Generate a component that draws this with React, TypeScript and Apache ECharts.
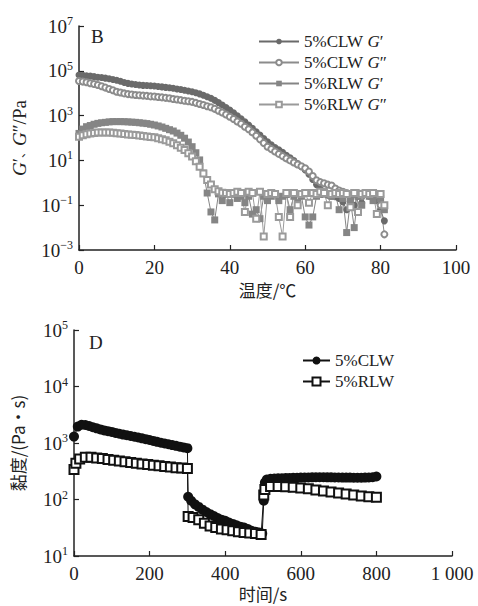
import React, { useEffect, useRef } from "react";
import * as echarts from "echarts";

// ---- Panel B: temperature sweep (G', G'') ----
const temps = Array.from({ length: 82 }, (_, i) => i); // 0..81 °C, one reading per degree

const clwGp = [
  65000, 63000, 60000, 58000, 55000, 52000, 50000, 47000, 44000, 41000,
  38000, 34000, 30000, 27500, 25700, 24500, 23400, 22400, 21900, 21400,
  20900, 20000, 19100, 18200, 17400, 16600, 15500, 14500, 13500, 12600,
  11700, 10500, 9300, 8100, 6900, 5900, 4800, 3800, 3000, 2300,
  1780, 1320, 980, 720, 525, 380, 270, 190, 135, 95,
  68, 50, 38, 30, 23, 17, 13, 9.8, 7.2, 5.2,
  3.7, 2.4, 1.4, 0.83, 0.52, 0.35, 0.28, 0.25, 0.24, 0.2,
  0.14, 0.063, 0.2, 0.1, 0.25, 0.126, 0.32, 0.25, 0.2, 0.16,
  0.063, 0.02,
];
const clwGpp = [
  35000, 33000, 31000, 28000, 25700, 23400, 20400, 17800, 15500, 13500,
  11700, 10700, 9800, 9100, 8700, 8300, 8100, 7800, 7600, 7200,
  7100, 6800, 6500, 6200, 5900, 5500, 5200, 4900, 4600, 4400,
  4100, 3700, 3300, 2950, 2630, 2340, 2000, 1660, 1380, 1120,
  890, 710, 550, 430, 320, 245, 178, 126, 87, 60,
  41, 32, 25, 19.5, 15.5, 12.3, 10, 8.1, 6.6, 5.5,
  4.5, 3.2, 2.0, 1.3, 1.07, 0.95, 0.83, 0.76, 0.56, 0.45,
  0.4, 0.35, 0.28, 0.32, 0.35, 0.25, 0.32, 0.35, 0.32, 0.28,
  0.1, 0.005,
];
const rlwGp = [
  160, 250, 320, 360, 410, 450, 480, 500, 525, 540,
  540, 540, 535, 525, 510, 500, 480, 460, 440, 410,
  380, 345, 310, 270, 235, 205, 166, 132, 98, 66,
  41, 22, 10.5, 2.7, 0.35, 0.05, 0.022, 0.32, 0.16, 0.3,
  0.13, 0.3, 0.2, 0.25, 0.13, 0.25, 0.04, 0.063, 0.025, 0.25,
  0.16, 0.25, 0.3, 0.16, 0.25, 0.3, 0.063, 0.25, 0.13, 0.25,
  0.03, 0.013, 0.03, 0.25, 0.3, 0.4, 0.3, 0.25, 0.3, 0.063,
  0.2, 0.006, 0.16, 0.01, 0.25, 0.1, 0.3, 0.25, 0.16, 0.3,
  0.2, 0.063,
];
const rlwGpp = [
  115, 132, 148, 158, 166, 174, 178, 178, 174, 170,
  162, 158, 151, 145, 138, 135, 129, 123, 117, 112,
  107, 98, 89, 79, 68, 58, 47, 37, 29, 21,
  15, 9.1, 5.2, 2.6, 1.35, 0.85, 0.51, 0.42, 0.36, 0.35,
  0.32, 0.35, 0.4, 0.35, 0.05, 0.4, 0.35, 0.025, 0.4, 0.004,
  0.32, 0.35, 0.32, 0.03, 0.004, 0.35, 0.03, 0.35, 0.1, 0.32,
  0.35, 0.13, 0.35, 0.32, 0.4, 0.35, 0.1, 0.32, 0.35, 0.32,
  0.35, 0.32, 0.08, 0.35, 0.05, 0.32, 0.35, 0.32, 0.35, 0.04,
  0.32, 0.1,
];
const bNames = ["5%CLW G′", "5%CLW G″", "5%RLW G′", "5%RLW G″"];
const bXTicks = [0, 20, 40, 60, 80, 100];
const bYTicks = [1e-3, 1e-1, 1e1, 1e3, 1e5, 1e7];

// ---- Panel D: viscosity vs time ----
const clwTime = [
  0, 10, 20, 30, 40, 50, 60, 70, 80, 90, 100, 110, 120, 130, 140, 150, 160, 170, 180, 190,
  200, 210, 220, 230, 240, 250, 260, 270, 280, 290, 300,
  302, 310, 320, 330, 340, 350, 360, 370, 380, 390, 400, 410, 420, 430, 440, 450, 460, 470, 480, 490, 498,
  502, 505, 510, 520, 530, 540, 550, 560, 570, 580, 590, 600, 610, 620, 630, 640, 650, 660, 670,
  680, 690, 700, 710, 720, 730, 740, 750, 760, 770, 780, 790, 800,
];
const clwVisc = [
  1300, 1950, 2100, 2080, 2000, 1900, 1820, 1740, 1670, 1620, 1570, 1510, 1460, 1410, 1370, 1330, 1290, 1250, 1210, 1170,
  1130, 1090, 1050, 1010, 980, 950, 920, 890, 860, 835, 810,
  112, 95, 82, 74, 66, 60, 55, 51, 47, 44, 42, 39, 37, 35, 33, 32, 30, 28, 27, 26, 25,
  95, 200, 225, 232, 235, 237, 238, 240, 241, 242, 243, 244, 245, 246, 247, 248, 248, 248, 247,
  247, 246, 245, 244, 244, 244, 243, 243, 243, 244, 245, 248, 255,
];
const rlwTime = [
  0, 5, 15, 30, 45, 60, 75, 90, 105, 120, 135, 150, 165, 180, 195, 210, 225, 240, 255, 270, 285, 300,
  302, 315, 330, 345, 360, 375, 390, 405, 420, 435, 450, 465, 480, 495,
  502, 505, 520, 540, 560, 580, 600, 620, 640, 660, 680, 700, 720, 740, 760, 780, 800,
];
const rlwVisc = [
  340, 440, 520, 560, 560, 545, 530, 510, 495, 480, 465, 450, 440, 425, 415, 405, 395, 385, 375, 365, 360, 355,
  50, 48, 44, 38, 34, 32, 30, 29, 28, 27, 26, 25.5, 25, 24,
  120, 150, 170, 170, 168, 165, 160, 155, 148, 142, 136, 130, 125, 120, 115, 112, 110,
];
const dNames = ["5%CLW", "5%RLW"];
const dXTicks = [0, 200, 400, 600, 800, 1000];
const dYTicks = [1e1, 1e2, 1e3, 1e4, 1e5];

const zip = (xs: number[], ys: number[]) => xs.map((x, i) => [x, ys[i]]);

const SERIF = "'Liberation Serif', 'DejaVu Serif', serif";
const CJK = "'Noto Sans CJK SC', sans-serif";

const expLabel = (v: number) => {
  const e = Math.round(Math.log10(v));
  return `10{sup|${e < 0 ? "−" + -e : e}}`;
};
const richSup = {
  sup: { fontSize: 12, fontFamily: SERIF, color: "#222", padding: [0, 0, 10, 0] },
};

export default function App() {
  const ref = useRef<HTMLDivElement>(null);
  useEffect(() => {
    document.body.style.margin = "0";
    const chart = echarts.init(ref.current!, null, { renderer: "svg" });
    const axisLine = { lineStyle: { color: "#222", width: 1.5 } };
    const tickStyle = { inside: true, length: 5, lineStyle: { color: "#222", width: 1.2 } };
    const labelBase = { fontFamily: SERIF, fontSize: 19, color: "#222" };

    const option: any = {
      animation: false,
      backgroundColor: "#fff",
      grid: [
        { left: 79, right: 22, top: 26, height: 224 },
        { left: 74, right: 26, top: 330, height: 226 },
      ],
      xAxis: [
        {
          gridIndex: 0,
          type: "value",
          min: 0,
          max: 100,
          interval: 20,
          axisLine,
          axisTick: { ...tickStyle, customValues: bXTicks },
          axisLabel: { ...labelBase, margin: 8, customValues: bXTicks },
          splitLine: { show: false },
          name: "温度/℃",
          nameLocation: "middle",
          nameGap: 31,
          nameTextStyle: { fontFamily: CJK, fontSize: 17, color: "#222" },
        },
        {
          gridIndex: 1,
          type: "value",
          min: 0,
          max: 1000,
          interval: 200,
          axisLine,
          axisTick: { ...tickStyle, customValues: dXTicks },
          axisLabel: {
            ...labelBase,
            margin: 8,
            customValues: dXTicks,
            formatter: (v: number) => (v === 1000 ? "1 000" : String(v)),
          },
          splitLine: { show: false },
          name: "时间/s",
          nameLocation: "middle",
          nameGap: 29,
          nameTextStyle: { fontFamily: CJK, fontSize: 17, color: "#222" },
        },
      ],
      yAxis: [
        {
          gridIndex: 0,
          type: "log",
          logBase: 10,
          min: 1e-3,
          max: 1e7,
          axisLine,
          axisTick: { ...tickStyle, customValues: bYTicks },
          axisLabel: { ...labelBase, margin: 6, customValues: bYTicks, formatter: expLabel, rich: richSup },
          splitLine: { show: false },
          minorTick: { show: false },
          name: "{i|G}′{c|、}{i|G}″/Pa",
          nameLocation: "middle",
          nameGap: 50,
          nameRotate: 90,
          nameTextStyle: {
            fontFamily: SERIF,
            fontSize: 19,
            color: "#222",
            rich: {
              i: { fontFamily: SERIF, fontSize: 19, fontStyle: "italic", color: "#222" },
              c: { fontFamily: CJK, fontSize: 12, color: "#222" },
            },
          },
        },
        {
          gridIndex: 1,
          type: "log",
          logBase: 10,
          min: 1e1,
          max: 1e5,
          axisLine,
          axisTick: { ...tickStyle, customValues: dYTicks },
          axisLabel: { ...labelBase, margin: 6, customValues: dYTicks, formatter: expLabel, rich: richSup },
          splitLine: { show: false },
          name: "黏度/(Pa·s)",
          nameLocation: "middle",
          nameGap: 48,
          nameRotate: 90,
          nameTextStyle: { fontFamily: CJK, fontSize: 17, color: "#222" },
        },
      ],
      legend: [
        {
          data: bNames,
          orient: "vertical",
          left: 253,
          top: 28,
          itemGap: 4,
          itemWidth: 40,
          itemHeight: 7,
          formatter: (n: string) => n.replace(/(G)([′″])/, "{i|$1}$2"),
          textStyle: {
            fontFamily: SERIF,
            fontSize: 17,
            color: "#222",
            rich: { i: { fontFamily: SERIF, fontSize: 17, fontStyle: "italic", color: "#222" } },
          },
        },
        {
          data: dNames,
          orient: "vertical",
          left: 297,
          top: 347,
          itemGap: 4,
          itemWidth: 27,
          itemHeight: 10,
          textStyle: { fontFamily: SERIF, fontSize: 17, color: "#222" },
        },
      ],
      graphic: [
        { type: "text", left: 91, top: 27, style: { text: "B", font: `19px ${SERIF}`, fill: "#222" } },
        { type: "text", left: 89, top: 333, style: { text: "D", font: `19px ${SERIF}`, fill: "#222" } },
      ],
      series: [
        {
          name: bNames[0], type: "line", xAxisIndex: 0, yAxisIndex: 0,
          data: zip(temps, clwGp), symbol: "circle", symbolSize: 7,
          itemStyle: { color: "#6a6a6a" }, lineStyle: { color: "#6a6a6a", width: 1 },
        },
        {
          name: bNames[1], type: "line", xAxisIndex: 0, yAxisIndex: 0,
          data: zip(temps, clwGpp), symbol: "emptyCircle", symbolSize: 6,
          itemStyle: { color: "#8c8c8c", borderWidth: 1 }, lineStyle: { color: "#8c8c8c", width: 1 },
        },
        {
          name: bNames[2], type: "line", xAxisIndex: 0, yAxisIndex: 0,
          data: zip(temps, rlwGp), symbol: "rect", symbolSize: 7,
          itemStyle: { color: "#858585" }, lineStyle: { color: "#858585", width: 1 },
        },
        {
          name: bNames[3], type: "line", xAxisIndex: 0, yAxisIndex: 0,
          data: zip(temps, rlwGpp), symbol: "emptyRect", symbolSize: 6,
          itemStyle: { color: "#9a9a9a", borderWidth: 1 }, lineStyle: { color: "#9a9a9a", width: 1 },
        },
        {
          name: dNames[0], type: "line", xAxisIndex: 1, yAxisIndex: 1,
          data: zip(clwTime, clwVisc), symbol: "circle", symbolSize: 10,
          itemStyle: { color: "#111" }, lineStyle: { color: "#111", width: 1 },
        },
        {
          name: dNames[1], type: "line", xAxisIndex: 1, yAxisIndex: 1,
          data: zip(rlwTime, rlwVisc), symbol: "emptyRect", symbolSize: 9,
          itemStyle: { color: "#111", borderWidth: 1.2 }, lineStyle: { color: "#111", width: 1 },
        },
      ],
    };
    chart.setOption(option);
    return () => chart.dispose();
  }, []);
  return (
    <div
      ref={ref}
      style={{ width: 478, height: 606, position: "absolute", left: 0, top: 0, background: "#fff" }}
    />
  );
}
